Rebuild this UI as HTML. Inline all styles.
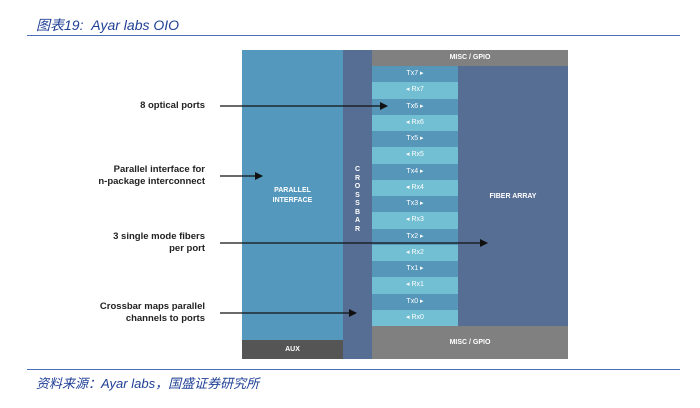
<!DOCTYPE html>
<html><head><meta charset="utf-8"><style>
body{margin:0;width:700px;height:408px;background:#fff;position:relative;overflow:hidden;font-family:"Liberation Sans","Noto Sans CJK SC",sans-serif}
.a{position:absolute}
.t{color:#1f3f95;font-style:italic;font-size:14px}
.w{color:#fff;font-size:7px;text-align:center;font-weight:bold}
.lab{position:absolute;right:495px;text-align:right;font-size:9.5px;font-weight:bold;color:#222;line-height:12px}
</style></head><body>
<div class="a t" style="left:36px;top:15px">图表19:&nbsp; Ayar labs OIO</div>
<div class="a" style="left:27px;top:35px;width:653px;height:1px;background:#4a6fb5"></div>
<div class="a" style="left:27px;top:369px;width:653px;height:1px;background:#4a6fb5"></div>
<div class="a t" style="left:36px;top:373px;font-size:13px">资料来源：Ayar labs，国盛证券研究所</div>

<div class="a" style="left:242px;top:50px;width:101px;height:290px;background:#5499bd"></div>
<div class="a w" style="left:242px;top:186px;width:101px;line-height:10px">PARALLEL<br>INTERFACE</div>
<div class="a w" style="left:242px;top:340px;width:101px;height:19px;line-height:19px;background:#555">AUX</div>
<div class="a" style="left:343px;top:50px;width:29px;height:309px;background:#566e93"></div>
<div class="a w" style="left:343px;top:166px;width:29px;line-height:8.5px">C<br>R<br>O<br>S<br>S<br>B<br>A<br>R</div>
<div class="a w" style="left:372px;top:50px;width:196px;height:16px;line-height:16px;background:#808080">MISC / GPIO</div>
<div class="a" style="left:458px;top:66px;width:110px;height:260px;background:#566e93"></div>
<div class="a w" style="left:458px;top:193px;width:110px">FIBER ARRAY</div>
<div class="a w" style="left:372px;top:326px;width:196px;height:33px;line-height:33px;background:#808080">MISC / GPIO</div>
<div class="a" style="left:372px;top:66px;width:86px">
<div id="ports"></div></div>
<script>
var h='';for(var i=7;i>=0;i--){h+='<div class="w" style="height:16.25px;line-height:16px;background:#5596b9;font-weight:normal">Tx'+i+' ▸</div><div class="w" style="height:16.25px;line-height:16px;background:#72bed2;font-weight:normal">◂ Rx'+i+'</div>';}
document.getElementById('ports').innerHTML=h;
</script>

<div class="lab" style="top:100px">8 optical ports</div>
<div class="lab" style="top:164px">Parallel interface for<br>n-package interconnect</div>
<div class="lab" style="top:231px">3 single mode fibers<br>per port</div>
<div class="lab" style="top:301px">Crossbar maps parallel<br>channels to ports</div>
<svg class="a" style="left:0;top:0" width="700" height="408">
<defs><marker id="m" markerWidth="8" markerHeight="8" refX="7" refY="4" orient="auto" markerUnits="userSpaceOnUse"><path d="M0,0L8,4L0,8z" fill="#111"/></marker></defs>
<g stroke="#111" stroke-width="1.2" marker-end="url(#m)">
<line x1="220" y1="106" x2="387" y2="106"/>
<line x1="220" y1="176" x2="262" y2="176"/>
<line x1="220" y1="243" x2="487" y2="243"/>
<line x1="220" y1="313" x2="356" y2="313"/>
</g></svg>
</body></html>
